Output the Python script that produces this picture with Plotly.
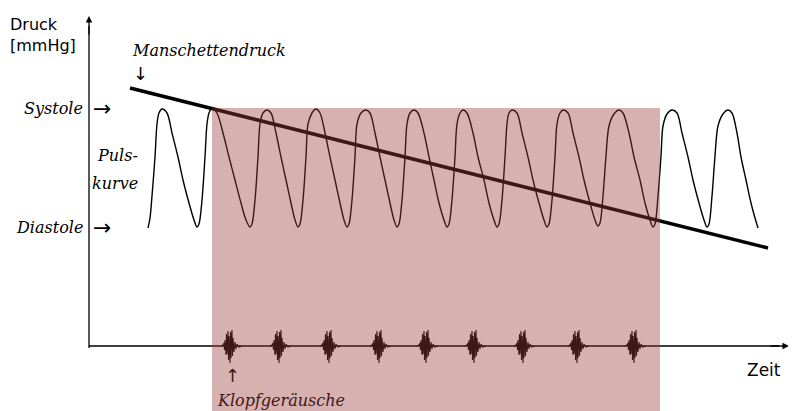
import plotly.graph_objects as go

# pulse curve (Pulskurve), origin at the axes crossing
pulse_t = [59, 61, 63, 66, 68, 70, 73,
           78, 83, 89, 94, 100, 105, 108,
           110, 113, 116, 118, 120, 123,
           128, 134, 140, 146, 152, 157, 161,
           163, 166, 169, 171, 174, 178,
           182, 187, 192, 197, 202, 206, 209,
           211, 214, 217, 219, 223, 227,
           231, 236, 241, 246, 251, 255, 258,
           260, 263, 266, 268, 272, 277,
           281, 286, 291, 296, 301, 305, 308,
           310, 313, 316, 318, 321, 325,
           329, 335, 340, 345, 350, 355, 358,
           360, 363, 366, 368, 371, 374,
           378, 384, 389, 395, 400, 405, 408,
           410, 413, 416, 418, 420, 423,
           428, 433, 439, 444, 450, 455, 458,
           460, 463, 466, 468, 471, 474,
           479, 484, 490, 495, 501, 506, 509,
           511, 514, 517, 520, 525, 530,
           534, 540, 545, 551, 556, 561, 564,
           566, 569, 572, 574, 578, 583,
           588, 593, 599, 604, 610, 615, 618,
           620, 623, 626, 629, 634, 639,
           643, 648, 652, 657, 662, 666, 669]
pulse_p = [118, 128, 150, 189, 222, 233, 237,
           233, 213, 189, 166, 143, 126, 119,
           122, 146, 189, 222, 233, 238,
           233, 213, 189, 166, 143, 126, 119,
           122, 146, 189, 222, 233, 236,
           233, 213, 189, 166, 143, 126, 119,
           122, 146, 189, 222, 233, 237,
           233, 213, 189, 166, 143, 126, 119,
           122, 146, 189, 222, 233, 236,
           233, 213, 189, 166, 143, 126, 119,
           122, 146, 189, 222, 233, 236,
           233, 213, 189, 166, 143, 126, 119,
           122, 146, 189, 222, 233, 236,
           233, 213, 189, 166, 143, 126, 119,
           122, 146, 189, 222, 233, 236,
           233, 213, 189, 166, 143, 126, 119,
           122, 146, 189, 222, 233, 236,
           233, 213, 189, 166, 143, 126, 120,
           123, 150, 190, 220, 232, 236,
           233, 213, 189, 166, 143, 126, 119,
           122, 150, 190, 220, 232, 236,
           233, 213, 189, 166, 143, 126, 119,
           122, 150, 190, 220, 232, 236,
           233, 213, 189, 166, 143, 128, 118]

# cuff pressure (Manschettendruck), falls linearly
cuff_t = [41, 679]
cuff_p = [258, 98]

# Korotkoff sounds: burst centres and one burst shape
sound_t = [141, 190, 240, 290, 337, 385, 434, 488, 545]
burst_dt = [-9, -7, -6, -5.5, -5, -4, -3.5, -3, -2, -1.5, -1, 0, 0.5, 1, 1.5, 2, 2.5,
            3, 4, 5, 6, 7, 9, 12]
burst_a = [0, 1, 3, -4, 6, -9, 12, -8, 15, -14, 10, -17, 14, -12, 9, 16, -10,
           8, -6, 4, -3, 2, -1, 0]

# interval with audible sounds
audible = [123, 571]
systole, diastole = 238, 119

sound_x, sound_y = [], []
for c in sound_t:
    sound_x += [c + d for d in burst_dt] + [None]
    sound_y += burst_a + [None]

fig = go.Figure()

# axis lines (drawn as traces so the shading tints them)
fig.add_trace(go.Scatter(x=[0, 0], y=[-2, 320], mode="lines",
                         line=dict(color="black", width=1.3), hoverinfo="skip"))
fig.add_trace(go.Scatter(x=[0, 690], y=[0, 0], mode="lines",
                         line=dict(color="black", width=1.3), hoverinfo="skip"))

fig.add_trace(go.Scatter(x=pulse_t, y=pulse_p, mode="lines",
                         line=dict(color="black", width=1.4, shape="spline", smoothing=0.9),
                         hoverinfo="skip"))
fig.add_trace(go.Scatter(x=cuff_t, y=cuff_p, mode="lines",
                         line=dict(color="black", width=3.6), hoverinfo="skip"))
fig.add_trace(go.Scatter(x=sound_x, y=sound_y, mode="lines",
                         line=dict(color="black", width=1.1), hoverinfo="skip"))

# shaded region on top, tints what is under it
fig.add_shape(type="rect", x0=audible[0], x1=audible[1], y0=-70, y1=systole,
              fillcolor="rgba(154,58,58,0.4)", line_width=0, layer="above")

# arrow heads of the axes
arr = dict(showarrow=True, arrowhead=2, arrowsize=1, arrowwidth=1.3,
           arrowcolor="black", axref="x", ayref="y", text="")
fig.add_annotation(x=0, y=330, ax=0, ay=310, **arr)
fig.add_annotation(x=700, y=0, ax=680, ay=0, **arr)

sans = dict(family="DejaVu Sans", size=16, color="black")
serif = dict(family="DejaVu Serif", size=16, color="black", style="italic")
sym = dict(family="DejaVu Sans", size=22, color="black")
brown = "#3e1717"

texts = [
    ("Druck<br>[mmHg]", -81, 311, "left", sans),
    ("Zeit", 656, -24, "left", dict(sans, size=17)),
    ("Manschettendruck", 41, 296, "left", serif),
    ("↓", 42, 273, "left", dict(sym, size=18)),
    ("Systole", -4, systole, "right", serif),
    ("Diastole", -4, diastole, "right", serif),
    ("→", 2, systole, "left", sym),
    ("→", 2, diastole, "left", sym),
    ("Puls-", 51, 191, "right", serif),
    ("kurve", 51, 163, "right", serif),
    ("↑", 134, -29, "left", dict(sym, size=18, color=brown)),
    ("Klopfgeräusche", 126, -54, "left", dict(serif, color=brown)),
]
for txt, x, y, anchor, font in texts:
    fig.add_annotation(x=x, y=y, text=txt, showarrow=False, xanchor=anchor,
                       yanchor="middle", align=anchor, font=font)

# page body has an 8px margin, so the figure is 8px smaller
fig.update_xaxes(range=[-81, 707], visible=False)
fig.update_yaxes(range=[-65, 338], visible=False)
fig.update_layout(width=788, height=403, margin=dict(l=0, r=0, t=0, b=0),
                  showlegend=False, plot_bgcolor="white", paper_bgcolor="white")

fig.write_html("out.html")
